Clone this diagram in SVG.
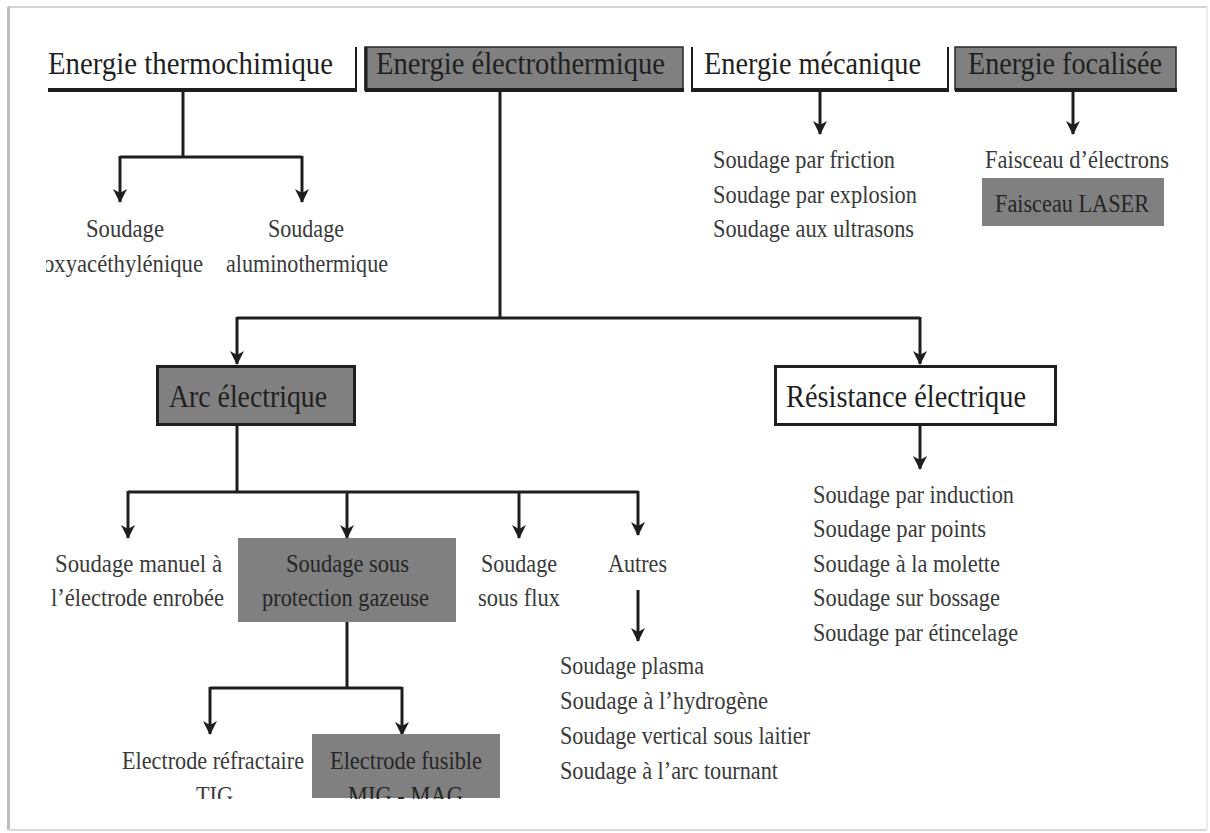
<svg xmlns="http://www.w3.org/2000/svg" width="1210" height="833" viewBox="0 0 1210 833">
  <style>
    .big { font-family: "Liberation Serif", "Times New Roman", serif; font-size: 32px; fill: #1f1f1f; }
    .sm { font-family: "Liberation Serif", "Times New Roman", serif; font-size: 25px; fill: #3a3a3a; }
    .smd { font-family: "Liberation Serif", "Times New Roman", serif; font-size: 25px; fill: #262626; }
    .conn { stroke: #1e1e1e; stroke-width: 3; fill: none; }
    .arr { stroke: #1e1e1e; stroke-width: 3; fill: none; marker-end: url(#ah); }
    .gray { fill: #808080; }
    .edge { stroke: #1e1e1e; fill: none; }
  </style>
  <defs>
    <marker id="ah" viewBox="0 0 14 14" refX="13" refY="7" markerWidth="14" markerHeight="14" markerUnits="userSpaceOnUse" orient="auto">
      <path d="M0,0 L14,7 L0,14 L4,7 z" fill="#1e1e1e"/>
    </marker>
    <clipPath id="clipLeft"><rect x="46" y="240" width="200" height="50"/></clipPath>
    <clipPath id="clipBottom"><rect x="0" y="770" width="1210" height="29"/></clipPath>
  </defs>

  <rect x="0" y="0" width="1210" height="833" fill="#ffffff"/>
  <g id="frame">
    <line x1="8" y1="7" x2="1207" y2="7" stroke="#d4d4d4" stroke-width="2"/>
    <line x1="8.5" y1="7" x2="8.5" y2="830" stroke="#bdbdbd" stroke-width="3"/>
    <line x1="8" y1="830" x2="1207" y2="830" stroke="#d9d9d9" stroke-width="2"/>
    <line x1="1207" y1="7" x2="1207" y2="830" stroke="#ececec" stroke-width="2"/>
  </g>

  <g id="connectors">
    <!-- thermochimique -->
    <path class="conn" d="M183,90 V157 M120,157 H302"/>
    <line class="arr" x1="120" y1="156" x2="120" y2="202"/>
    <line class="arr" x1="302" y1="156" x2="302" y2="202"/>
    <!-- electrothermique -->
    <path class="conn" d="M500,92 V318 M237,318 H920"/>
    <line class="arr" x1="237" y1="317" x2="237" y2="364"/>
    <line class="arr" x1="920" y1="317" x2="920" y2="364"/>
    <!-- mecanique -->
    <line class="arr" x1="820" y1="90" x2="820" y2="134"/>
    <!-- focalisee -->
    <line class="arr" x1="1073" y1="92" x2="1073" y2="134"/>
    <!-- arc -->
    <path class="conn" d="M237,426 V492 M128,492 H638"/>
    <line class="arr" x1="128" y1="491" x2="128" y2="538"/>
    <line class="arr" x1="347" y1="491" x2="347" y2="538"/>
    <line class="arr" x1="519" y1="491" x2="519" y2="538"/>
    <line class="arr" x1="638" y1="491" x2="638" y2="535"/>
    <!-- resistance -->
    <line class="arr" x1="920" y1="426" x2="920" y2="469"/>
    <!-- autres -->
    <line class="arr" x1="638" y1="590" x2="638" y2="641"/>
    <!-- protection gazeuse -->
    <path class="conn" d="M347,622 V688 M210,688 H402"/>
    <line class="arr" x1="210" y1="687" x2="210" y2="734"/>
    <line class="arr" x1="402" y1="687" x2="402" y2="735"/>
  </g>

  <g id="n-thermochimique">
    <path class="edge" stroke-width="2" d="M356,47 V90"/>
    <path class="edge" stroke-width="4" d="M48,90 H357"/>
    <text class="big" x="48" y="74" textLength="285" lengthAdjust="spacingAndGlyphs">Energie thermochimique</text>
  </g>
  <g id="n-electrothermique">
    <rect class="gray" x="365" y="47" width="318" height="43" stroke="#2a2a2a" stroke-width="1.5"/>
    <path class="edge" stroke-width="3" d="M366,47 V91"/>
    <path class="edge" stroke-width="4" d="M365,90 H684"/>
    <text class="big" x="376" y="74" textLength="289" lengthAdjust="spacingAndGlyphs">Energie électrothermique</text>
  </g>
  <g id="n-mecanique">
    <path class="edge" stroke-width="2" d="M692,47 V90 M948,47 V90"/>
    <path class="edge" stroke-width="4" d="M691,90 H949"/>
    <text class="big" x="704" y="74" textLength="217" lengthAdjust="spacingAndGlyphs">Energie mécanique</text>
  </g>
  <g id="n-focalisee">
    <rect class="gray" x="955" y="47" width="221" height="43" stroke="#2a2a2a" stroke-width="1.5"/>
    <path class="edge" stroke-width="4" d="M955,90 H1177"/>
    <text class="big" x="968" y="74" textLength="194" lengthAdjust="spacingAndGlyphs">Energie focalisée</text>
  </g>

  <g id="n-oxy">
    <text class="sm" x="86" y="237" textLength="78" lengthAdjust="spacingAndGlyphs">Soudage</text>
    <text class="sm" x="43" y="272" textLength="160" lengthAdjust="spacingAndGlyphs" clip-path="url(#clipLeft)">oxyacéthylénique</text>
  </g>
  <g id="n-alumino">
    <text class="sm" x="268" y="237" textLength="76" lengthAdjust="spacingAndGlyphs">Soudage</text>
    <text class="sm" x="226" y="272" textLength="162" lengthAdjust="spacingAndGlyphs">aluminothermique</text>
  </g>

  <g id="n-mecanique-list">
    <text class="sm" x="713" y="168" textLength="182" lengthAdjust="spacingAndGlyphs">Soudage par friction</text>
    <text class="sm" x="713" y="203" textLength="204" lengthAdjust="spacingAndGlyphs">Soudage par explosion</text>
    <text class="sm" x="713" y="237" textLength="201" lengthAdjust="spacingAndGlyphs">Soudage aux ultrasons</text>
  </g>

  <g id="n-electrons">
    <text class="sm" x="985" y="168" textLength="184" lengthAdjust="spacingAndGlyphs">Faisceau d’électrons</text>
  </g>
  <g id="n-laser">
    <rect class="gray" x="982" y="178" width="182" height="48"/>
    <text class="smd" x="995" y="212" textLength="154" lengthAdjust="spacingAndGlyphs">Faisceau LASER</text>
  </g>

  <g id="n-arc">
    <rect class="gray" x="157.5" y="366.5" width="197" height="58" stroke="#1e1e1e" stroke-width="3"/>
    <text class="big" x="169" y="407" textLength="158" lengthAdjust="spacingAndGlyphs">Arc électrique</text>
  </g>
  <g id="n-resistance">
    <rect x="775.5" y="366.5" width="280" height="58" fill="#ffffff" stroke="#1e1e1e" stroke-width="3"/>
    <text class="big" x="786" y="407" textLength="240" lengthAdjust="spacingAndGlyphs">Résistance électrique</text>
  </g>

  <g id="n-resistance-list">
    <text class="sm" x="813" y="503" textLength="201" lengthAdjust="spacingAndGlyphs">Soudage par induction</text>
    <text class="sm" x="813" y="537" textLength="173" lengthAdjust="spacingAndGlyphs">Soudage par points</text>
    <text class="sm" x="813" y="572" textLength="187" lengthAdjust="spacingAndGlyphs">Soudage à la molette</text>
    <text class="sm" x="813" y="606" textLength="187" lengthAdjust="spacingAndGlyphs">Soudage sur bossage</text>
    <text class="sm" x="813" y="641" textLength="205" lengthAdjust="spacingAndGlyphs">Soudage par étincelage</text>
  </g>

  <g id="n-manuel">
    <text class="sm" x="55" y="572" textLength="167" lengthAdjust="spacingAndGlyphs">Soudage manuel à</text>
    <text class="sm" x="51" y="606" textLength="173" lengthAdjust="spacingAndGlyphs">l’électrode enrobée</text>
  </g>
  <g id="n-gazeuse">
    <rect class="gray" x="238" y="538" width="218" height="84"/>
    <text class="smd" x="286" y="572" textLength="123" lengthAdjust="spacingAndGlyphs">Soudage sous</text>
    <text class="smd" x="262" y="606" textLength="167" lengthAdjust="spacingAndGlyphs">protection gazeuse</text>
  </g>
  <g id="n-flux">
    <text class="sm" x="481" y="572" textLength="76" lengthAdjust="spacingAndGlyphs">Soudage</text>
    <text class="sm" x="478" y="606" textLength="82" lengthAdjust="spacingAndGlyphs">sous flux</text>
  </g>
  <g id="n-autres">
    <text class="sm" x="608" y="572" textLength="59" lengthAdjust="spacingAndGlyphs">Autres</text>
  </g>
  <g id="n-autres-list">
    <text class="sm" x="560" y="674" textLength="144" lengthAdjust="spacingAndGlyphs">Soudage plasma</text>
    <text class="sm" x="560" y="709" textLength="208" lengthAdjust="spacingAndGlyphs">Soudage à l’hydrogène</text>
    <text class="sm" x="560" y="744" textLength="250" lengthAdjust="spacingAndGlyphs">Soudage vertical sous laitier</text>
    <text class="sm" x="560" y="779" textLength="218" lengthAdjust="spacingAndGlyphs">Soudage à l’arc tournant</text>
  </g>

  <g id="n-tig">
    <text class="sm" x="122" y="769" textLength="182" lengthAdjust="spacingAndGlyphs">Electrode réfractaire</text>
    <text class="sm" x="196" y="804" textLength="37" lengthAdjust="spacingAndGlyphs" clip-path="url(#clipBottom)">TIG</text>
  </g>
  <g id="n-mig">
    <rect class="gray" x="312" y="734" width="188" height="64"/>
    <text class="smd" x="330" y="769" textLength="152" lengthAdjust="spacingAndGlyphs">Electrode fusible</text>
    <text class="smd" x="348" y="804" textLength="115" lengthAdjust="spacingAndGlyphs" clip-path="url(#clipBottom)">MIG - MAG</text>
  </g>
</svg>
